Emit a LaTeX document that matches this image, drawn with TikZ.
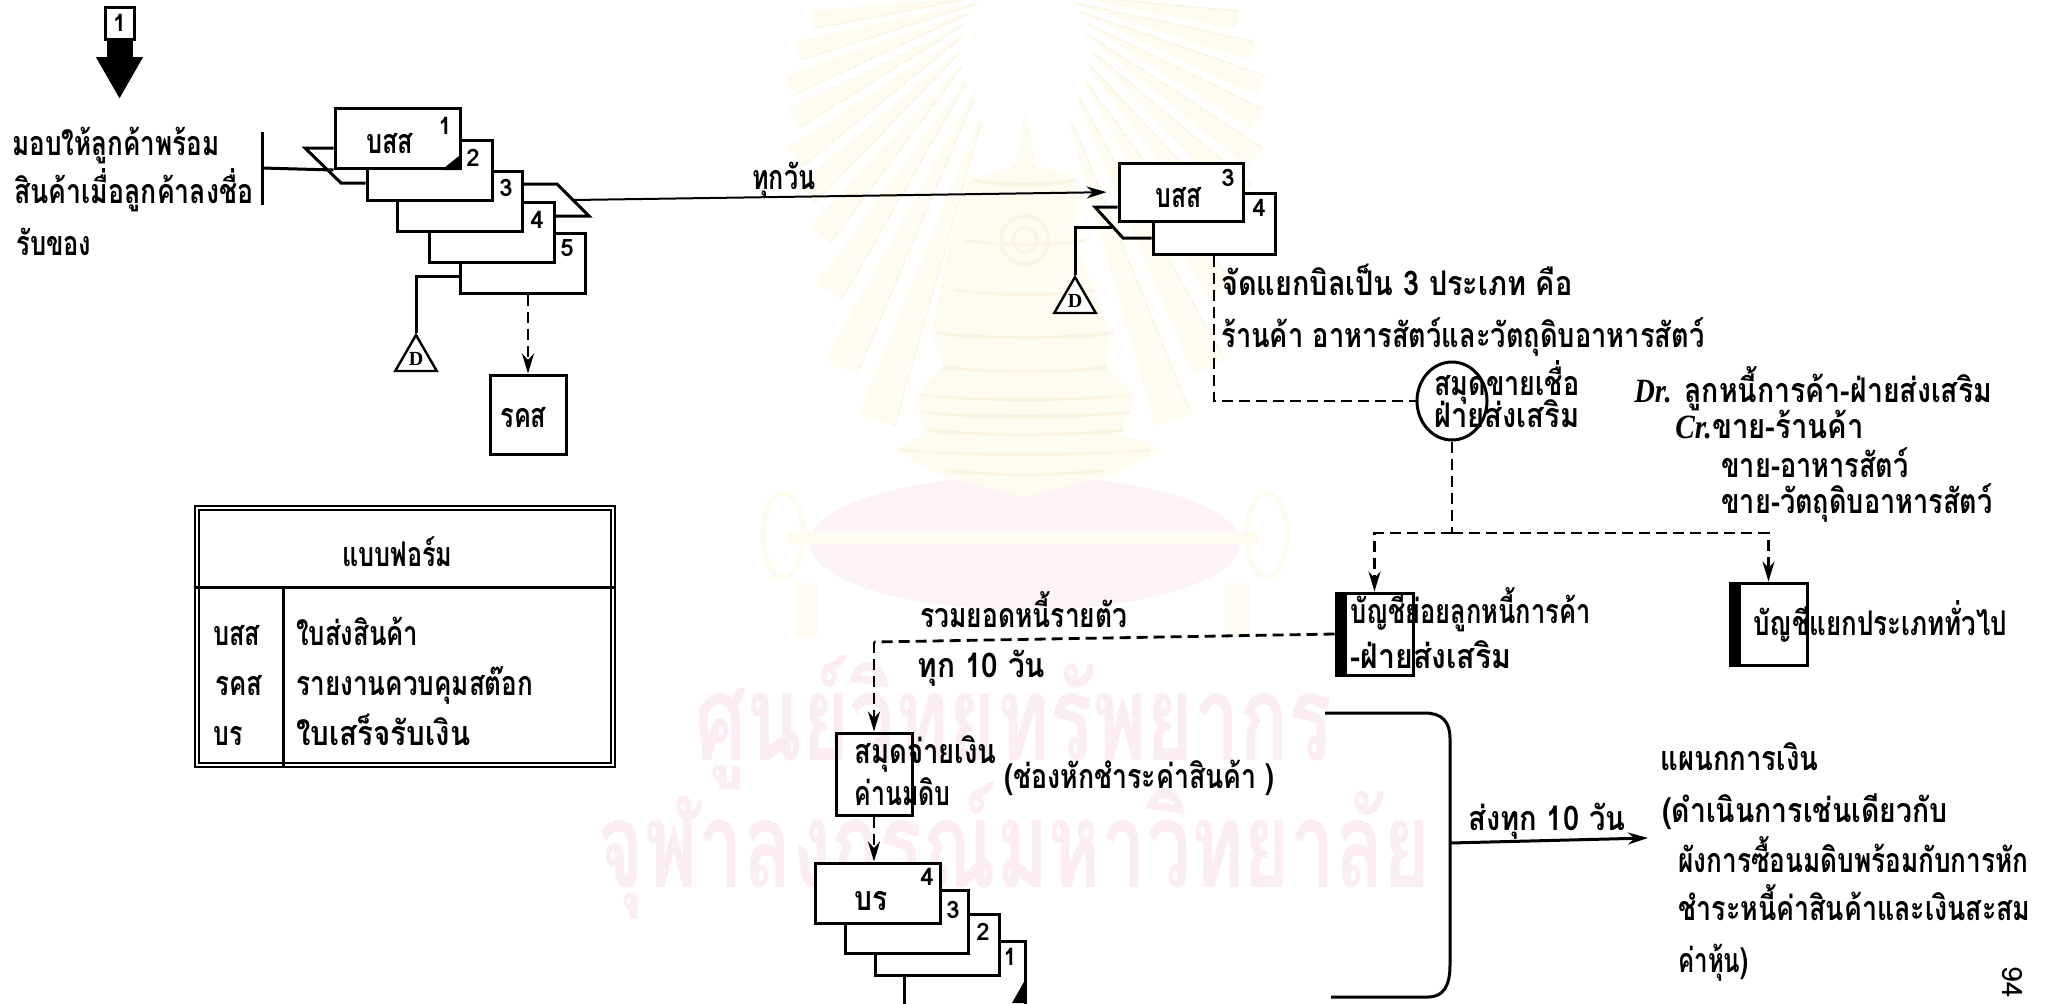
\documentclass[tikz,border=0pt]{standalone}
\usepackage{fontspec}
\usepackage{graphicx}
\usetikzlibrary{arrows.meta,calc,shapes.geometric}
\setmainfont[Script=Thai]{Loma}
\newfontfamily\latser{Liberation Serif}
\newsavebox\fwbox
\newcommand{\fw}[2]{\sbox\fwbox{#2}\pgfmathsetmacro\fwsc{#1*0.5/\the\wd\fwbox}\scalebox{\fwsc}[1]{\usebox\fwbox}}
\definecolor{wmpink}{HTML}{FBEDF2}
\definecolor{wmdome}{HTML}{FDF2F6}
\definecolor{wmcream}{HTML}{FEFBF0}
\definecolor{wmtan}{HTML}{FAF5E2}
\tikzset{
  line/.style={line width=1.5pt,draw=black,line join=miter},
  thin line/.style={line width=1pt,draw=black},
  dashline/.style={line width=1.4pt,draw=black,dash pattern=on 5.5pt off 3pt},
  tip/.style={-{Stealth[length=10pt,width=6pt]}},
  formbox/.style={rectangle,draw=black,line width=1.5pt,fill=white,inner sep=0pt,minimum width=62.5pt,minimum height=30pt},
  plainbox/.style={rectangle,draw=black,line width=1.5pt,inner sep=0pt},
  lab/.style={anchor=base west,inner sep=0pt,font=\bfseries\fontsize{17}{18}\selectfont,text=black},
  num/.style={inner sep=0pt,font=\bfseries\fontsize{12}{14}\selectfont},
  tri/.style={regular polygon,regular polygon sides=3,draw=black,line width=1.2pt,fill=white,inner sep=0pt,minimum size=24pt,font=\latser\bfseries\fontsize{10}{12}\selectfont},
  wm/.style={anchor=base west,inner sep=0pt,text=wmpink,font=\bfseries\fontsize{60}{64}\selectfont},
}
\begin{document}
\begin{tikzpicture}[x=0.5pt,y=-0.5pt]
\useasboundingbox (0,0) rectangle (2052,1003);
% ---- watermark ----
\foreach \a/\r/\q in {8/215/45,15/235/50,22/255/60,29/265/70,36/285/75,43/300/90,50/320/100,57/360/110,64/420/120,71/455/140,
                      172/215/45,165/235/50,158/255/60,151/265/70,144/285/75,137/300/90,130/320/100,123/360/110,116/420/120,109/455/140}{
  \fill[wmcream] ($(1025,-10)+(\a-0.8:\q)$) -- ($(1025,-10)+(\a+0.8:\q)$) -- ($(1025,-10)+(\a+2.4:\r)$) -- ($(1025,-10)+(\a-2.4:\r)$) -- cycle;
  \draw[wmtan,line width=.6pt] ($(1025,-10)+(\a-0.8:\q)$) -- ($(1025,-10)+(\a-2.4:\r)$);
}
\fill[wmdome] (1025,543) ellipse (215 and 67);
\fill[wmcream] (1025,110) -- (1036,165) -- (1080,180) -- (1073,233) -- (1110,333) -- (1106,367) -- (1136,395) -- (1121,433) -- (1162,450) -- (1110,475) -- (1025,497) -- (940,475) -- (895,450) -- (925,433) -- (914,395) -- (943,367) -- (932,333) -- (951,233) -- (969,180) -- (1014,165) -- cycle;
\foreach \y/\w in {180/50,240/60,290/70,333/88,367/82,395/105,412/105,430/98,450/125,470/80}{
  \draw[wmtan,line width=1.6pt] (1025-\w,\y) .. controls (1025-\w/2,\y+6) and (1025+\w/2,\y+6) .. (1025+\w,\y);
}
\draw[wmtan,line width=1.6pt] (1025,240) circle (24);
\draw[wmtan,line width=1.6pt] (1025,240) circle (12);
\fill[wmcream] (788,532) rectangle (1258,544);
\draw[wmcream,line width=3pt] (783,535) ellipse (20 and 42);
\draw[wmcream,line width=3pt] (1267,535) ellipse (20 and 42);
\fill[wmcream] (795,583) rectangle (818,637);
\fill[wmcream] (1225,583) rectangle (1250,637);
\node[wm] (wmA) at (695,760) {\fw{637}{ศูนย์วิทยทรัพยากร}};
\node[wm] (wmB) at (597,887) {\fw{833}{จุฬาลงกรณ์มหาวิทยาลัย}};
% ---- input tag ----
\node[plainbox,minimum width=14.5pt,minimum height=16pt,fill=white,num] (tag) at (119.5,23) {1};
\coordinate (tagtip) at (119.5,99);
\draw[line width=13pt,-{Triangle[length=21pt,width=22pt]}] (tag.south) -- (tagtip);
\node[lab] (t1) at (12,155) {\fw{207}{มอบให้ลูกค้าพร้อม}};
\node[lab] (t2) at (14,203) {\fw{239}{สินค้าเมื่อลูกค้าลงชื่อ}};
\node[lab] (t3) at (16,255) {\fw{75}{รับของ}};
% ---- five part form ----
\node[formbox] (s5) at (522.5,263) {};
\node[formbox] (s4) at (491.5,232) {};
\node[formbox] (s3) at (460,201.5) {};
\node[formbox] (s2) at (429.5,170.5) {};
\node[formbox] (s1) at (397.5,138.5) {};
\fill (s1.south east) -- ++(-20,0) -- ++(20,-16) -- cycle;
\node[lab] (s1t) at (366,153) {\fw{47}{บสส}};
\node[num] (n1) at (445,126) {1};
\node[num] (n2) at (473,158) {2};
\node[num] (n3) at (506,188) {3};
\node[num] (n4) at (537,220) {4};
\node[num] (n5) at (567,248) {5};
\coordinate (bt) at (262,132);
\coordinate (bb) at (262,205);
\coordinate (bm) at (262,168);
\draw[line] (bt) -- (bb);
\draw[line] (bm) -- (s1.south west);
\coordinate (fl1) at (305,148);
\coordinate (fl2) at (341,183);
\draw[line] (s1.west |- fl1) -- (fl1) -- (fl2) -- (s2.west |- fl2);
\coordinate (fr1) at (557,184);
\coordinate (fr2) at (589,216);
\draw[line] (s3.east |- fr1) -- (fr1) -- (fr2) -- (s4.east |- fr2);
\coordinate (frm) at ($(fr1)!.5!(fr2)$);
% D file, left
\node[tri] (d1) at (416,359) {D};
\coordinate (d1c) at (416,276);
\draw[line] (s5.west |- d1c) -- (d1c) -- (d1.corner 1);
% report
\node[plainbox,minimum width=38pt,minimum height=39.5pt] (rks) at (528,414.5) {};
\node[lab] (rkst) at (500,427) {\fw{46}{รคส}};
\draw[dashline,tip] (s5.south -| rks.north) -- (rks.north);
% ---- legend ----
\node[rectangle,draw=black,double,double distance=1.2pt,line width=1.1pt,minimum width=208pt,minimum height=128.5pt,inner sep=0pt] (leg) at (405,636.5) {};
\coordinate (lh) at (197,587);
\coordinate (lv) at (283,587);
\draw[line] (leg.west |- lh) -- (leg.east |- lh);
\draw[line] (lv) -- (lv |- leg.south);
\node[lab] (lg0) at (342,566) {\fw{110}{แบบฟอร์ม}};
\node[lab] (lg1) at (213,645) {\fw{47}{บสส}};
\node[lab] (lg2) at (215,695) {\fw{47}{รคส}};
\node[lab] (lg3) at (213,745) {\fw{29}{บร}};
\node[lab] (lg4) at (296,645) {\fw{122}{ใบส่งสินค้า}};
\node[lab] (lg5) at (296,695) {\fw{237}{รายงานควบคุมสต๊อก}};
\node[lab] (lg6) at (296,745) {\fw{174}{ใบเสร็จรับเงิน}};
% ---- two part form ----
\node[formbox,minimum width=61pt,minimum height=30.5pt] (m4) at (1214,223.5) {};
\node[formbox,minimum width=62pt,minimum height=29pt] (m3) at (1181,192) {};
\node[lab] (m3t) at (1155,207) {\fw{46}{บสส}};
\node[num] (m3n) at (1228,178) {3};
\node[num] (m4n) at (1259,208) {4};
\draw[thin line,tip,shorten >=5.5pt] (frm) -- (m3.west);
\node[lab] (daily) at (752,189) {\fw{63}{ทุกวัน}};
\coordinate (fa1) at (1095,207);
\coordinate (fa2) at (1123,238);
\draw[line] (m3.west |- fa1) -- (fa1) -- (fa2) -- (m4.west |- fa2);
\node[tri] (d2) at (1075,301) {D};
\coordinate (d2a) at (1112,227);
\coordinate (d2b) at (1075,227);
\draw[line] (d2a) -- (d2b) -- (d2.corner 1);
\node[lab] (c1) at (1221,295) {\fw{351}{จัดแยกบิลเป็น 3 ประเภท คือ}};
\node[lab] (c2) at (1221,347) {\fw{483}{ร้านค้า อาหารสัตว์และวัตถุดิบอาหารสัตว์}};
% ---- sales journal ----
\node[ellipse,draw=black,line width=1.5pt,minimum width=35pt,minimum height=39pt,inner sep=0pt] (circ) at (1452,401) {};
\node[lab] (j1) at (1434,395) {\fw{145}{สมุดขายเชื่อ}};
\node[lab] (j2) at (1434,427) {\fw{145}{ฝ่ายส่งเสริม}};
\draw[dashline] (m4.south) |- (circ.west);
\node[lab] (dr1) at (1634,402) {\fw{358}{{\latser\itshape Dr.} ลูกหนี้การค้า-ฝ่ายส่งเสริม}};
\node[lab] (dr2) at (1675,438) {\fw{188}{{\latser\itshape Cr.}ขาย-ร้านค้า}};
\node[lab] (dr3) at (1721,477) {\fw{187}{ขาย-อาหารสัตว์}};
\node[lab] (dr4) at (1721,513) {\fw{271}{ขาย-วัตถุดิบอาหารสัตว์}};
% ---- ledgers ----
\node[plainbox,minimum width=38.5pt,minimum height=41pt] (led1) at (1374.5,634) {};
\fill (led1.north west) rectangle ($(led1.south west)+(12,0)$);
\node[plainbox,minimum width=38.5pt,minimum height=41pt] (led2) at (1768.5,624) {};
\fill (led2.north west) rectangle ($(led2.south west)+(12,0)$);
\node[lab] (l1a) at (1350,623) {\fw{240}{บัญชีย่อยลูกหนี้การค้า}};
\node[lab] (l1b) at (1350,668) {\fw{161}{-ฝ่ายส่งเสริม}};
\node[lab] (l2a) at (1753,635) {\fw{254}{บัญชีแยกประเภททั่วไป}};
\coordinate (jc) at (1452,533);
\draw[dashline] (circ.south) -- (jc);
\draw[dashline,tip] (jc) -| (led1.north);
\draw[dashline,tip] (jc) -| (led2.north);
% ---- payment journal ----
\node[plainbox,minimum width=38pt,minimum height=41pt] (jb) at (874,774) {};
\coordinate (jbc) at (874,642);
\draw[dashline] (led1.west) -- (jbc);
\draw[dashline,tip] (jbc) -- (jb.north);
\node[lab] (sum1) at (920,627) {\fw{207}{รวมยอดหนี้รายตัว}};
\node[lab] (sum2) at (917,677) {\fw{128}{ทุก 10 วัน}};
\node[lab] (jb1) at (854,763) {\fw{142}{สมุดจ่ายเงิน}};
\node[lab] (jb2) at (854,805) {\fw{96}{ค่านมดิบ}};
\node[lab] (jb3) at (1004,788) {\fw{270}{(ช่องหักชำระค่าสินค้า )}};
% ---- receipts ----
\node[formbox,minimum width=60.5pt,minimum height=34.5pt] (r1) at (964.5,975.5) {};
\node[formbox,minimum width=62pt,minimum height=30.5pt] (r2) at (937,944.5) {};
\node[formbox,minimum width=61.5pt,minimum height=31.5pt] (r3) at (906.5,921.5) {};
\node[formbox,minimum width=62.5pt,minimum height=30pt] (r4) at (877.5,893) {};
\coordinate (rc) at (1025,980);
\fill (rc) -- (rc |- 0,1003) -- (1012,1003) -- cycle;
\node[lab] (r4t) at (854,910) {\fw{33}{บร}};
\node[num] (rn4) at (927,877) {4};
\node[num] (rn3) at (953,910) {3};
\node[num] (rn2) at (983,932) {2};
\node[num] (rn1) at (1010,957) {1};
\draw[dashline,tip] (jb.south) -- (r4.north -| jb.south);
% ---- bracket ----
\coordinate (bk1) at (1325,713);
\coordinate (bk2) at (1331,997);
\coordinate (bkm) at (1450,843);
\coordinate (fin) at (1648,838);
\draw[line] (bk1) -- (1425,713) .. controls (1442,713) and (1450,722) .. (1450,738) -- (1450,965) .. controls (1450,985) and (1444,997) .. (1428,997) -- (bk2);
\draw[line,tip] (bkm) -- (fin);
\node[lab] (send) at (1468,830) {\fw{157}{ส่งทุก 10 วัน}};
\node[lab] (f1) at (1660,770) {\fw{158}{แผนกการเงิน}};
\node[lab] (f2) at (1662,822) {\fw{285}{(ดำเนินการเช่นเดียวกับ}};
\node[lab] (f3) at (1678,872) {\fw{350}{ผังการซื้อนมดิบพร้อมกับการหัก}};
\node[lab] (f4) at (1678,920) {\fw{352}{ชำระหนี้ค่าสินค้าและเงินสะสม}};
\node[lab] (f5) at (1678,972) {\fw{70}{ค่าหุ้น)}};
\node[inner sep=0pt,rotate=-90,font=\fontsize{14}{14}\selectfont] (pg) at (2012,982) {94};
\end{tikzpicture}
\end{document}
